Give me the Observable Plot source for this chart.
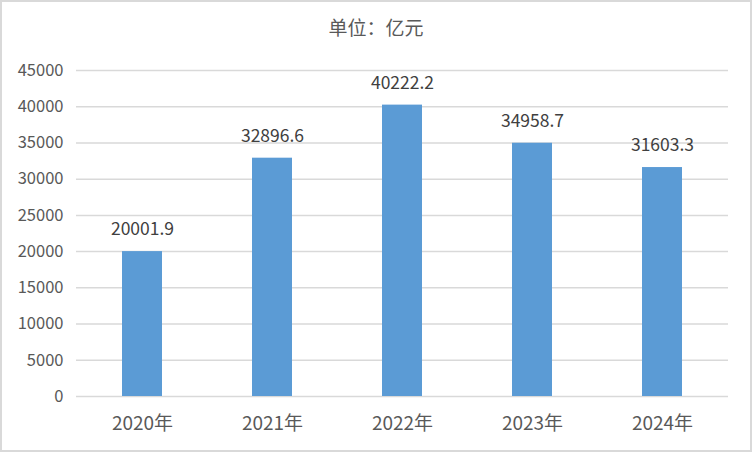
<!DOCTYPE html>
<html><head><meta charset="utf-8">
<script src="https://cdn.jsdelivr.net/npm/d3@7"></script>
<script src="https://cdn.jsdelivr.net/npm/@observablehq/plot@0.6"></script>
<style>
body{margin:0;background:#fff;}
#wrap{position:relative;width:752px;height:452px;overflow:hidden;font-family:"Noto Sans CJK SC","Noto Sans",sans-serif;}
#title{position:absolute;left:0;width:752px;top:13px;text-align:center;font-size:19px;color:#595959;line-height:28px;}
#border{position:absolute;left:0;top:0;width:752px;height:452px;box-sizing:border-box;border:2px solid #d9d9d9;pointer-events:none;}
#chart{position:absolute;left:0;top:0;}
</style></head>
<body>
<div id="wrap"><div id="chart"></div><div id="title">单位：亿元</div><div id="border"></div></div>
<script>
const years = ["2020年","2021年","2022年","2023年","2024年"];
const values = [20001.9, 32896.6, 40222.2, 34958.7, 31603.3];
const labels = ["20001.9","32896.6","40222.2","34958.7","31603.3"];
const yTicks = [0,5000,10000,15000,20000,25000,30000,35000,40000,45000];
const data = years.map((y,i)=>({year:y, value:values[i], label:labels[i]}));

const chart = Plot.plot({
  width: 752, height: 452,
  marginLeft: 76, marginRight: 24, marginTop: 70, marginBottom: 56,
  style: {fontFamily: '"Noto Sans CJK SC","Noto Sans",sans-serif', color: "#595959", background: "transparent"},
  x: {domain: years, paddingInner: 0.693, paddingOuter: 0.345, label: null},
  y: {domain: [0, 45000], ticks: yTicks, label: null},
  marks: [
    Plot.gridY(yTicks, {stroke: "#d9d9d9", strokeOpacity: 1, strokeWidth: 1.5}),
    Plot.axisY(yTicks, {tickSize: 0, tickPadding: 13, fontSize: 16.5, fill: "#595959", label: null, tickFormat: d => String(d)}),
    Plot.axisX({tickSize: 0, tickPadding: 20, fontSize: 19, fill: "#595959", label: null}),
    Plot.barY(data, {x: "year", y: "value", fill: "#5b9bd5"}),
    Plot.text(data, {x: "year", y: "value", text: "label", dy: -22, fontSize: 17.5, fill: "#404040"})
  ]
});
document.getElementById("chart").appendChild(chart);
</script>
</body></html>
